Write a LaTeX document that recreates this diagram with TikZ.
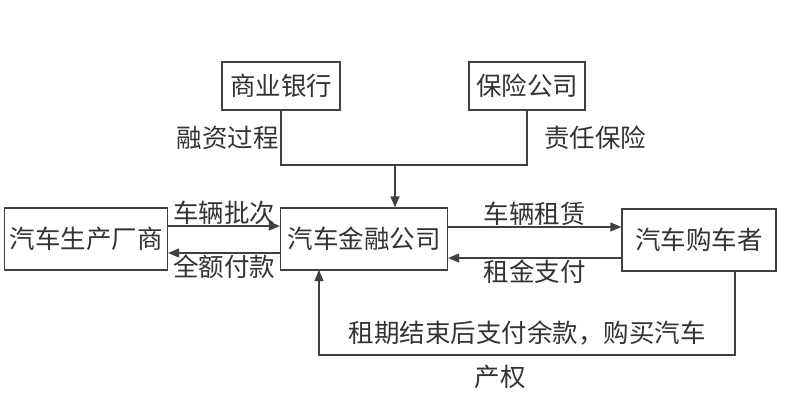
\documentclass[tikz,border=0pt]{standalone}
\usepackage{fontspec}
\setmainfont{Noto Sans CJK SC}
\usetikzlibrary{arrows.meta}
\begin{document}
\begin{tikzpicture}[x=1pt,y=-1pt,
 box/.style={draw=black!75,line width=1.2pt,minimum height=62pt,inner sep=0pt,font=\fontsize{25.5}{28}\selectfont,text=black!80},
 lab/.style={font=\fontsize{25.5}{28}\selectfont,text=black!80,inner sep=1pt},
 ln/.style={draw=black!75,line width=1.2pt},
 ar/.style={ln,-{Triangle[length=11pt,width=9pt]}}]
\useasboundingbox (0,0) rectangle (800,409);
\node[box,minimum width=118pt,minimum height=48pt] (bank) at (281,86) {商业银行};
\node[box,minimum width=116pt,minimum height=48pt] (ins) at (527,86) {保险公司};
\node[box,minimum width=163pt] (maker) at (86,239) {汽车生产厂商};
\node[box,minimum width=167pt] (fin) at (364,239) {汽车金融公司};
\node[box,minimum width=154pt] (buyer) at (699,240) {汽车购车者};
\coordinate (j) at (395,165);
\draw[ln] (bank.south) |- (j);
\draw[ln] (ins.south) |- (j);
\draw[ar] (j) -- (j |- fin.north);
\node[lab,anchor=east] (l1) at (280,138) {融资过程};
\node[lab,anchor=west] (l2) at (543,138) {责任保险};
\draw[ar] (maker.east |- 0,226) -- (fin.west |- 0,226) node[lab,midway,above=0pt] (l3) {车辆批次};
\draw[ar] (fin.west |- 0,253) -- (maker.east |- 0,253) node[lab,midway,below=0pt] (l4) {全额付款};
\draw[ar] (fin.east |- 0,227) -- (buyer.west |- 0,227) node[lab,midway,above=0pt] (l5) {车辆租赁};
\draw[ar] (buyer.west |- 0,258) -- (fin.east |- 0,258) node[lab,midway,below=0pt] (l6) {租金支付};
\coordinate (b1) at (735,355);
\draw[ar] (buyer.south -| b1) -- (b1) -- (319,355) -- (319,270);
\node[lab] (l7) at (527,333) {租期结束后支付余款，购买汽车};
\node[lab] (l8) at (500,377) {产权};
\end{tikzpicture}
\end{document}
